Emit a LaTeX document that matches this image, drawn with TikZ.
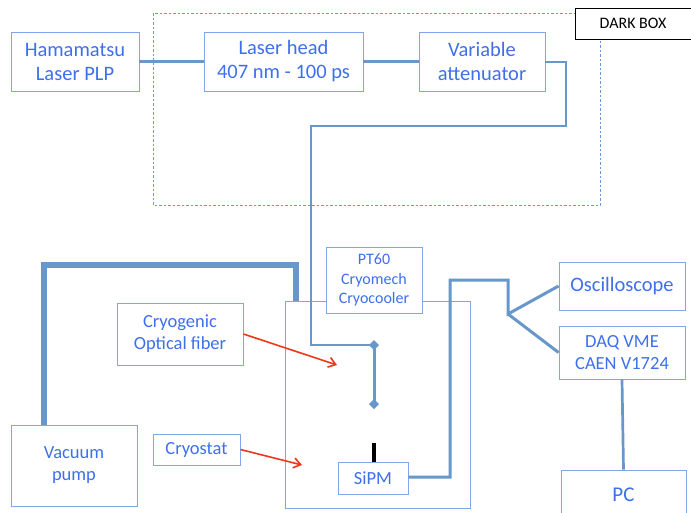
\documentclass[tikz,border=0pt]{standalone}
\usepackage{fontspec}
\setmainfont{Carlito}
\usetikzlibrary{arrows.meta}
\definecolor{boxc}{RGB}{128,166,232}
\definecolor{txtc}{RGB}{62,112,236}
\definecolor{linec}{RGB}{104,152,202}
\definecolor{dashc}{RGB}{105,155,220}
\definecolor{redc}{RGB}{238,56,30}
\tikzset{
  blbox/.style={draw=boxc, line width=0.9pt, fill=white, text=txtc, align=center, inner sep=0pt},
  fs/.style n args={2}{font=\fontsize{#1}{#2}\selectfont},
  conn/.style={draw=linec, line width=3pt, line join=miter},
  thinconn/.style={draw=linec, line width=2.7pt},
  redarrow/.style={draw=redc, line width=1.6pt, -{Straight Barb[length=7pt,width=10pt]}},
}
\begin{document}
\begin{tikzpicture}[x=1pt,y=-1pt]
\useasboundingbox (0,0) rectangle (691,512);
\clip (0,0) rectangle (691,512);
\fill[white] (0,0) rectangle (691,512);
% dark box
\draw[dashc, line width=0.9pt, dash pattern=on 2.5pt off 2pt] (153,13) rectangle (600,205);
\node[draw=black, line width=0.9pt, fill=white, minimum width=116pt, minimum height=31pt, inner sep=0pt, fs={16}{19}] (dark) at (633,23.5) {DARK BOX};
% cryostat
\draw[boxc, line width=0.9pt] (285,301) rectangle (470,508);
% boxes
\node[blbox, fs={20.5}{24}, minimum width=128pt, minimum height=59pt] (ham) at (75,61.5) {Hamamatsu\\Laser PLP};
\node[blbox, fs={20.5}{24}, minimum width=159pt, minimum height=59pt] (laser) at (283.5,61.5) {Laser head\\407 nm - 100 ps};
\node[blbox, fs={20.5}{24}, minimum width=126pt, minimum height=59pt] (att) at (482,61.5) {Variable\\attenuator};
\node[blbox, fs={18.5}{22}, minimum width=126pt, minimum height=62pt] (fib) at (180,334) {Cryogenic\\Optical fiber};
\node[blbox, fs={18.5}{22}, minimum width=87pt, minimum height=31pt] (cry) at (196.5,449.5) {Cryostat};
\node[blbox, fs={18.5}{22}, minimum width=126pt, minimum height=81pt] (vac) at (74,465.5) {Vacuum\\pump};
\node[blbox, fs={18.5}{22}, minimum width=70pt, minimum height=32pt] (sipm) at (373,478) {SiPM};
\node[blbox, fs={20.5}{24}, minimum width=126pt, minimum height=48pt] (osc) at (622,286) {Oscilloscope};
\node[blbox, fs={18.5}{22}, minimum width=126pt, minimum height=53pt] (daq) at (622,352.5) {DAQ VME\\CAEN V1724};
\node[blbox, fs={21}{25}, minimum width=125pt, minimum height=50pt] (pc) at (623.5,495) {PC};
% coordinates
\coordinate (a1) at (566,62);
\coordinate (a2) at (566,126);
\coordinate (a3) at (311,126);
\coordinate (a4) at (311,345);
\coordinate (fibA) at (374,345);
\coordinate (fibB) at (374,404);
\coordinate (v1) at (44,265);
\coordinate (v2) at (296,265);
\coordinate (v3) at (296,301);
\coordinate (s1) at (450,477);
\coordinate (s2) at (450,280);
\coordinate (s3) at (508,280);
\coordinate (s4) at (508,314);
\coordinate (chip) at (374,443);
% connectors
\draw[thinconn] (ham.east) -- (laser.west);
\draw[thinconn] (laser.east) -- (att.west);
\draw[thinconn] (att.east |- a1) -- (a1) -- (a2) -- (a3) -- (a4) -- (fibA);
\draw[draw=linec, line width=3pt, {Diamond[length=10pt,width=10pt]}-{Diamond[length=10pt,width=10pt]}, shorten <=-5pt, shorten >=-5pt] (fibA) -- (fibB);
\draw[draw=linec, line width=6pt] (vac.north -| v1) -- (v1) -- (v2) -- (v3);
\draw[black, line width=4pt] (chip) -- (sipm.north -| chip);
\draw[conn] (sipm.east |- s1) -- (s1) -- (s2) -- (s3) -- (s4) -- (osc.west);
\draw[conn] (s4) -- (daq.west);
\draw[thinconn] (daq.south) -- (pc.north);
% PT60 box on top of cryostat edge
\node[blbox, minimum width=96pt, minimum height=66pt, fs={16}{19.5}] (pt) at (374,280) {PT60\\Cryomech\\Cryocooler};
% red arrows
\coordinate (r1) at (337,365);
\coordinate (r2) at (302,465);
\draw[redarrow] (fib.east) -- (r1);
\draw[redarrow] (cry.east) -- (r2);
\end{tikzpicture}
\end{document}
